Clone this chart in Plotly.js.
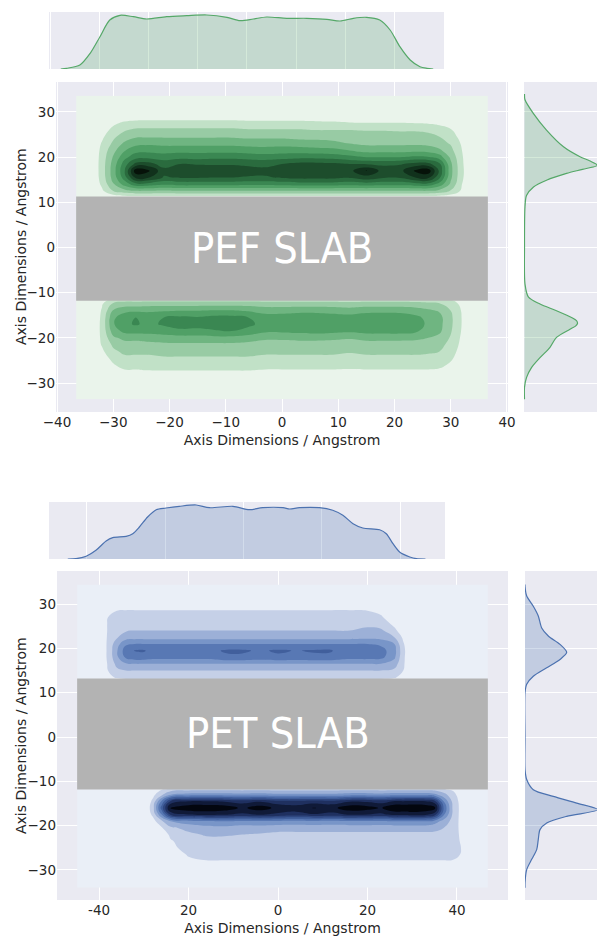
<!DOCTYPE html>
<html><head><meta charset="utf-8">
<script src="https://cdn.plot.ly/plotly-3.0.1.min.js"></script>
<style>html,body{margin:0;padding:0;background:#fff;overflow:hidden}#chart{width:597px;height:936px}</style>
</head><body><div id="chart"></div>
<script>
// ---------------- PEF (top, green) ----------------
const pefX = [-36.6,-34,-32,-30,-28,-26,-24,-21,-18,-15,-12,-9,-6,-3,0,3,6,9,12,15,18,21,24,26,28,30,32,34,36.6];
const pefYLow = [-33.6,-31,-29,-27.5,-26,-24.5,-23,-21.5,-20,-18.5,-17,-15.5,-14,-12.5,-11];
const pefYUp = [11,12.5,14,15.5,17,18.5,20,21.5,23,24.5,26,27.5,29,31,33.6];
const Z15 = [0,0,0,0,0,0,0,0,0,0,0,0,0,0,0];
// density level per x column, lower band rows (pefYLow)
const pefLow = [
 Z15, Z15,
 [0,0,0,0.05,0.25,0.5,0.8,1.1,1.2,1.25,1.25,1.2,1.1,0.9,0.4],
 [0,0,0.1,0.4,0.9,1.3,1.8,2.2,2.8,3.5,3.9,3.8,3.1,2.2,0.9],
 [0,0,0.2,0.8,1.4,1.8,2.2,2.6,3.3,4.3,4.8,4.6,3.7,2.5,1.0],
 [0,0,0.2,0.8,1.4,1.8,2.2,2.6,3.3,4.4,5.1,5.0,3.8,2.5,1.0],
 [0,0,0.2,0.9,1.4,1.8,2.2,2.7,3.4,4.4,4.8,4.7,3.8,2.6,1.0],
 [0,0,0.2,0.9,1.5,1.9,2.3,2.8,3.5,4.6,5.1,5.0,3.9,2.6,1.0],
 [0,0,0.2,0.9,1.5,1.9,2.3,2.8,3.6,4.8,5.4,5.2,4.0,2.6,1.0],
 [0,0,0.2,0.9,1.5,1.9,2.3,2.8,3.6,4.8,5.3,5.1,4.0,2.6,1.0],
 [0,0,0.2,0.9,1.5,1.9,2.3,2.8,3.7,4.9,5.5,5.3,4.1,2.6,1.0],
 [0,0,0.2,0.9,1.5,1.9,2.3,2.8,3.7,5.0,5.6,5.3,4.1,2.6,1.0],
 [0,0,0.2,0.9,1.5,1.9,2.3,2.7,3.5,4.7,5.2,5.0,3.9,2.6,1.0],
 [0,0,0.2,0.8,1.4,1.8,2.2,2.6,3.2,4.2,4.7,4.5,3.6,2.5,1.0],
 [0,0,0.2,0.8,1.4,1.8,2.2,2.6,3.2,4.2,4.8,4.5,3.6,2.5,1.0],
 [0,0,0.2,0.8,1.4,1.8,2.2,2.6,3.3,4.3,4.9,4.6,3.7,2.5,1.0],
 [0,0,0.2,0.8,1.4,1.8,2.2,2.6,3.3,4.4,4.9,4.6,3.7,2.5,1.0],
 [0,0,0.2,0.8,1.4,1.8,2.2,2.6,3.2,4.3,4.8,4.5,3.6,2.5,1.0],
 [0,0,0.2,0.8,1.3,1.7,2.1,2.5,3.1,4.2,4.7,4.4,3.5,2.4,1.0],
 [0,0,0.2,0.8,1.4,1.8,2.2,2.6,3.3,4.4,4.9,4.6,3.7,2.5,1.0],
 [0,0,0.2,0.8,1.4,1.8,2.2,2.6,3.3,4.4,5.0,4.7,3.7,2.5,1.0],
 [0,0,0.2,0.8,1.4,1.8,2.2,2.6,3.3,4.4,4.9,4.6,3.7,2.5,1.0],
 [0,0,0.2,0.8,1.4,1.8,2.2,2.6,3.2,4.1,4.4,4.2,3.5,2.4,1.0],
 [0,0,0.2,0.8,1.4,1.8,2.1,2.5,3.0,3.6,3.8,3.7,3.2,2.3,0.9],
 [0,0,0.2,0.7,1.3,1.7,2.0,2.3,2.7,3.2,3.3,3.3,2.9,2.1,0.9],
 [0,0,0,0.3,0.8,1.2,1.5,1.7,1.9,2.1,2.2,2.2,2.0,1.6,0.7],
 [0,0,0,0,0.1,0.3,0.5,0.7,0.8,0.9,0.95,0.95,0.9,0.7,0.3],
 Z15, Z15
];
// upper band rows (pefYUp)
const pefUp = [
 Z15, Z15,
 [0,0.8,1.2,1.4,1.45,1.45,1.4,1.3,1.1,0.8,0.5,0.2,0,0,0],
 [0.2,2.0,2.9,3.4,3.5,3.4,3.1,2.7,2.2,1.8,1.3,0.8,0.2,0,0],
 [0.3,2.6,4.4,5.5,5.9,5.5,4.7,3.9,3.2,2.5,1.9,1.2,0.4,0,0],
 [0.3,2.9,5.6,8.3,9.6,7.3,5.6,4.6,3.7,2.9,2.2,1.35,0.5,0,0],
 [0.3,2.9,5.6,8.2,9.3,7.4,5.7,4.7,3.8,2.9,2.2,1.4,0.5,0,0],
 [0.3,2.8,5.2,6.9,7.3,6.6,5.5,4.6,3.7,2.9,2.2,1.4,0.5,0,0],
 [0.3,2.9,5.4,7.1,7.8,7.0,5.7,4.6,3.7,2.9,2.2,1.4,0.5,0,0],
 [0.3,2.9,5.4,7.1,7.7,6.9,5.6,4.6,3.7,2.9,2.2,1.4,0.5,0,0],
 [0.3,2.9,5.4,7.0,7.6,6.9,5.7,4.6,3.7,2.9,2.2,1.4,0.5,0,0],
 [0.3,2.9,5.4,7.0,7.5,6.9,5.7,4.6,3.7,2.9,2.2,1.4,0.5,0,0],
 [0.3,2.9,5.3,6.9,7.4,6.8,5.6,4.5,3.6,2.8,2.1,1.3,0.5,0,0],
 [0.3,2.9,5.3,6.9,7.3,6.7,5.5,4.4,3.6,2.8,2.1,1.3,0.5,0,0],
 [0.3,2.9,5.4,7.1,7.7,7.0,5.6,4.5,3.6,2.8,2.1,1.3,0.5,0,0],
 [0.3,2.9,5.5,7.3,7.9,7.3,5.7,4.5,3.5,2.7,2.1,1.3,0.5,0,0],
 [0.3,2.9,5.5,7.3,8.0,7.3,5.7,4.4,3.4,2.7,2.0,1.25,0.45,0,0],
 [0.3,2.9,5.5,7.3,7.9,7.2,5.6,4.3,3.3,2.6,2.0,1.2,0.4,0,0],
 [0.3,2.9,5.4,7.1,7.7,7.0,5.3,4.0,3.0,2.5,2.0,1.1,0.35,0,0],
 [0.3,2.9,5.5,7.6,9.05,6.9,5.0,3.6,2.8,2.4,1.95,1.05,0.3,0,0],
 [0.3,2.9,5.4,7.1,7.6,6.8,5.0,3.6,2.8,2.4,1.95,1.05,0.3,0,0],
 [0.3,2.9,5.4,7.1,7.7,6.9,5.0,3.6,2.8,2.4,1.9,1.05,0.3,0,0],
 [0.3,2.9,5.6,8.1,9.3,7.4,5.2,3.7,2.8,2.4,1.9,1.0,0.3,0,0],
 [0.3,2.9,5.6,8.3,9.6,7.3,5.1,3.6,2.7,2.3,1.8,0.95,0.25,0,0],
 [0.3,2.6,4.6,6.2,6.8,6.2,4.5,3.2,2.4,2.0,1.5,0.8,0.2,0,0],
 [0.2,1.9,2.8,3.2,3.3,3.2,2.8,2.3,1.9,1.5,1.1,0.6,0.1,0,0],
 [0,0.8,1.0,1.15,1.2,1.15,1.1,1.0,0.85,0.6,0.35,0.1,0,0,0],
 Z15, Z15
];
const pefColors = ['#eaf4eb','#c1e1c7','#98cba4','#6fb581','#50a066','#3a8752','#2a6b3e','#1d4d2c','#11311c','#061209'];
// marginal KDE (x) – heights
const pefMX = [-38,-36.8,-34.1,-32.0,-30.0,-28.0,-25.9,-23.2,-20.5,-16.4,-12.3,-8.2,-4.1,-1.4,1.3,4.0,8.1,12.2,16.3,19.0,21.7,24.4,27.1,29.2,31.2,33.3,35.3,36.7,38];
const pefMH = [0,0.7,4,15.7,32.3,49,53.7,52.3,50,52.3,53.3,54,51.7,48.3,50,52,50.7,50.7,49.7,48,50.7,51.7,49,39,22.3,9,2.3,0.7,0];
// marginal KDE (y)
const pefMY = [34,32.7,29.7,26.0,22.3,20.1,19.2,18.2,17.3,16.4,14.9,13.4,11.5,9.0,0,-8.1,-11.0,-12.5,-14.0,-15.5,-16.2,-16.8,-17.4,-18.1,-19.9,-22.1,-24.4,-26.6,-28.8,-31.0,-33.6];
const pefMV = [0,0.5,8.8,22,39,55.5,65,73,58,42,22,9,2,0.5,0,0.5,4,15.5,32,47,52,53,51,45.5,32,25.5,15.5,7,2,0,0];

// ---------------- PET (bottom, blue) ----------------
const petX = [-44.9,-42,-40,-38,-36,-34,-32,-30,-28,-26,-24,-20,-16,-12,-8,-4,0,4,8,12,16,20,23,26,28,30,33,35,37,39,41,43,46.9];
const petYLow = [-34,-31,-29.5,-28,-26.5,-25,-23.5,-22,-20.5,-19,-17.5,-16,-14.5,-13,-11.5];
const petYUp = [12,13.5,15,16.5,18,19.5,21,22.5,24,25.5,27,28.5,30,32,34.4];
const petU0 = [0.5,1.2,2.0,3.0,4.4,4.6,4.0,2.6,2.0,1.5,1.3,1.05,0.4,0,0];
const petLow = [
 Z15, Z15, Z15, Z15, Z15, Z15, Z15, Z15,
 [0,0,0,0,0,0,0,0,0.2,0.6,1.2,1.5,1.2,0.7,0.3],
 [0,0,0,0,0,0,0.1,0.4,0.9,1.8,4.0,5.5,4.2,1.8,0.7],
 [0,0,0,0.05,0.4,0.8,0.9,1.2,1.8,3.0,7.2,9.3,7.2,3.0,1.1],
 [0,0,0.1,0.8,1.1,1.3,1.5,1.8,2.3,3.6,8.0,9.7,8.0,3.4,1.2],
 [0,0,0.3,0.95,1.3,1.45,1.7,2.1,2.6,3.9,8.2,9.8,8.0,3.5,1.2],
 [0,0,0.3,0.95,1.3,1.45,1.7,2.1,2.7,4.0,8.1,9.6,7.9,3.5,1.2],
 [0,0,0.3,0.95,1.3,1.45,1.6,2.0,2.5,3.8,7.8,8.8,7.6,3.4,1.2],
 [0,0,0.3,0.95,1.3,1.45,1.6,1.9,2.5,3.9,8.1,9.5,7.9,3.5,1.2],
 [0,0,0.3,0.95,1.3,1.45,1.6,1.75,2.4,3.8,7.8,8.7,7.4,3.3,1.2],
 [0,0,0.3,0.95,1.3,1.45,1.6,1.75,2.4,3.7,7.6,8.5,7.3,3.3,1.2],
 [0,0,0.3,0.95,1.3,1.45,1.6,1.75,2.4,3.8,7.9,9.05,7.5,3.3,1.2],
 [0,0,0.3,0.95,1.3,1.45,1.6,1.75,2.4,3.7,7.7,8.7,7.4,3.3,1.2],
 [0,0,0.3,0.95,1.3,1.45,1.6,1.75,2.4,3.9,8.1,9.6,7.9,3.5,1.2],
 [0,0,0.3,0.95,1.3,1.45,1.6,1.75,2.4,3.9,8.0,9.4,7.8,3.5,1.2],
 [0,0,0.3,0.95,1.3,1.45,1.6,1.75,2.4,3.8,7.8,8.9,7.6,3.4,1.2],
 [0,0,0.3,0.95,1.3,1.45,1.6,1.75,2.4,4.0,8.3,9.8,8.1,3.6,1.2],
 [0,0,0.3,0.95,1.3,1.45,1.6,1.75,2.4,4.0,8.3,9.8,8.1,3.6,1.2],
 [0,0,0.3,0.95,1.3,1.45,1.6,1.75,2.4,4.0,8.4,9.9,8.2,3.6,1.2],
 [0,0,0.3,0.95,1.3,1.45,1.6,1.75,2.4,4.0,8.2,9.8,8.0,3.6,1.2],
 [0,0,0.3,0.95,1.3,1.45,1.6,1.75,2.3,3.5,7.5,9.4,7.4,3.3,1.2],
 [0,0,0.3,0.95,1.3,1.45,1.6,1.7,2.0,2.6,4.2,5.0,4.0,2.4,1.0],
 [0,0,0.3,0.95,1.25,1.35,1.4,1.5,1.6,1.7,1.9,1.95,1.8,1.4,0.7],
 [0,0,0.1,0.6,0.95,0.98,0.9,0.8,0.7,0.65,0.6,0.6,0.55,0.4,0.2],
 Z15, Z15
];
const petUp = [
 Z15, Z15, Z15,
 [0.3,0.8,1.0,1.1,1.2,1.2,1.2,1.15,1.1,1.1,1.0,0.85,0.2,0,0],
 [0.4,1.1,1.8,2.3,2.8,2.9,2.6,1.9,1.6,1.3,1.15,1.0,0.35,0,0],
 [0.5,1.2,2.0,2.9,4.2,4.6,3.8,2.5,1.9,1.45,1.25,1.05,0.4,0,0],
 [0.5,1.2,2.0,3.0,4.6,5.05,4.0,2.6,2.0,1.5,1.3,1.05,0.4,0,0],
 [0.5,1.2,2.0,3.0,4.6,5.1,4.0,2.6,2.0,1.5,1.3,1.05,0.4,0,0],
 petU0, petU0, petU0, petU0, petU0,
 [0.5,1.2,2.0,3.0,4.8,5.1,4.0,2.6,2.0,1.5,1.3,1.05,0.4,0,0],
 [0.5,1.2,2.0,3.0,4.8,5.15,4.0,2.6,2.0,1.5,1.3,1.05,0.4,0,0],
 [0.5,1.2,2.0,3.0,4.6,4.85,4.0,2.6,2.0,1.5,1.3,1.05,0.4,0,0],
 [0.5,1.2,2.0,3.0,4.8,5.15,4.0,2.6,2.0,1.5,1.3,1.05,0.4,0,0],
 [0.5,1.2,2.0,3.0,4.7,4.95,4.0,2.6,2.0,1.5,1.3,1.05,0.4,0,0],
 [0.5,1.2,2.0,3.0,4.8,5.1,4.0,2.6,2.0,1.5,1.3,1.05,0.4,0,0],
 [0.5,1.2,2.0,3.0,4.8,5.05,4.0,2.6,2.0,1.5,1.3,1.05,0.4,0,0],
 petU0,
 [0.5,1.2,2.0,3.0,4.4,4.6,4.0,2.7,2.3,1.7,1.3,1.0,0.35,0,0],
 [0.5,1.2,2.0,3.0,4.3,4.4,3.8,2.6,2.2,1.5,1.1,0.8,0.2,0,0],
 [0.4,1.1,1.8,2.5,3.2,3.4,3.0,2.0,1.2,0.8,0.5,0.2,0,0,0],
 [0.2,0.7,1.0,1.15,1.2,1.25,1.1,0.8,0.5,0.3,0.1,0,0,0,0],
 Z15, Z15, Z15, Z15, Z15, Z15, Z15, Z15
];
const petColors = ['#eaeff7','#c5d0e7','#9cb0d7','#7895c8','#5878b4','#415f9c','#2f4780','#1f3060','#101a38','#03060f'];
const petMX = [-44.9,-42.8,-40.2,-37.7,-35.1,-33.4,-30.0,-28.3,-26.6,-24.5,-22.3,-19.8,-16.4,-12.1,-8.7,-2.7,1.5,4.9,10.1,11.8,14.3,19.4,22.8,25.4,28.0,30.5,34.8,36.5,38.2,39.9,42.5,44.2,46.5];
const petMH = [0,0.3,2.7,8.7,18,21.3,22.7,25.3,32,42,49.3,51,52.7,54,51.3,52.7,49.3,51.3,51.3,50,51.3,51.3,48.7,43.7,35.3,31,29.3,25.3,15.3,7,2,0.3,0];
const petMY = [34.4,34.0,31.8,29.5,27.3,24.6,22.8,20.9,19.1,17.5,15.6,13.7,11.9,10.0,0,-7.3,-9.6,-11.9,-13.4,-14.9,-16.4,-17.9,-19.4,-20.9,-23.1,-25.4,-27.6,-29.9,-32.9,-34.0];
const petMV = [0,0,1.7,8.3,13.3,16.7,23.3,35,41.7,35,21.7,8.3,1.7,0,0,0,1.7,8.3,28.3,51.7,73,41.7,21.7,15,13.3,11.7,6.7,1.7,0,0];

// ---------------- shared labels ----------------
const axisTitle = 'Axis Dimensions / Angstrom';
const yTicks = [-30,-20,-10,0,10,20,30];
const pefXTicks = [-40,-30,-20,-10,0,10,20,30,40];
const petXTicks = [-40,-20,0,20,40];
const petXTickText = ['-40','20','0','20','40'];
const slabLabels = ['PEF SLAB','PET SLAB'];
const pefSlab = {x0:-36.6, x1:36.6, y0:-11.8, y1:11.3};
const petSlab = {x0:-44.9, x1:46.9, y0:-11.85, y1:13.2};

// ---------------- build ----------------
const W = 597, H = 936;
const dx = (a,b) => [a/W, b/W];
const dy = (t,b) => [1-b/H, 1-t/H];
const cscale = cols => cols.map((c,i) => [i/(cols.length-1), c]);
const joinCols = (lo,up) => lo.map((c,i) => c.concat(up[i]));

function contourTrace(x, yl, yu, lo, up, cols, xa, ya){
  return {type:'contour', x:x, y:yl.concat(yu), z:joinCols(lo,up), transpose:true,
    xaxis:xa, yaxis:ya, colorscale:cscale(cols), autocontour:false,
    contours:{start:1,end:9,size:1,coloring:'fill',showlines:false},
    line:{width:0,smoothing:1.3}, showscale:false, hoverinfo:'skip'};
}
const green='#55a868', blue='#4c72b0';
const traces = [
  contourTrace(pefX,pefYLow,pefYUp,pefLow,pefUp,pefColors,'x','y'),
  {type:'scatter',mode:'lines',x:pefMX,y:pefMH,xaxis:'x2',yaxis:'y2',fill:'tozeroy',
   fillcolor:'rgba(85,168,104,0.25)',line:{color:green,width:1.2,shape:'spline',smoothing:0.8},hoverinfo:'skip'},
  {type:'scatter',mode:'lines',x:pefMV,y:pefMY,xaxis:'x3',yaxis:'y3',fill:'tozerox',
   fillcolor:'rgba(85,168,104,0.25)',line:{color:green,width:1.2,shape:'spline',smoothing:0.8},hoverinfo:'skip'},
  contourTrace(petX,petYLow,petYUp,petLow,petUp,petColors,'x4','y4'),
  {type:'scatter',mode:'lines',x:petMX,y:petMH,xaxis:'x5',yaxis:'y5',fill:'tozeroy',
   fillcolor:'rgba(76,114,176,0.25)',line:{color:blue,width:1.2,shape:'spline',smoothing:0.8},hoverinfo:'skip'},
  {type:'scatter',mode:'lines',x:petMV,y:petMY,xaxis:'x6',yaxis:'y6',fill:'tozerox',
   fillcolor:'rgba(76,114,176,0.25)',line:{color:blue,width:1.2,shape:'spline',smoothing:0.8},hoverinfo:'skip'}
];

const tickFont = {family:'DejaVu Sans, Verdana, sans-serif', size:13.5, color:'#262626'};
const titleFont = {family:'DejaVu Sans, Verdana, sans-serif', size:14, color:'#262626'};
const ax = o => Object.assign({showgrid:true,gridcolor:'#ffffff',gridwidth:1,zeroline:false,showline:false,
  ticks:'',tickfont:tickFont,fixedrange:true,tickmode:'array'}, o);
const pefYR = [-36.42,36.64], petYR = [-36.77,37.45];
const slabFont = {family:'DejaVu Sans Condensed, Noto Sans, sans-serif', size:43, color:'#ffffff'};
const layout = {
  width:W, height:H, margin:{l:0,r:0,t:0,b:0}, showlegend:false,
  paper_bgcolor:'#ffffff', plot_bgcolor:'#eaeaf2',
  font:{family:'DejaVu Sans, Verdana, sans-serif', color:'#262626'},
  xaxis: ax({domain:dx(56,508), range:[-40.18,40.18], tickvals:pefXTicks, anchor:'y',
     title:{text:axisTitle, font:titleFont, standoff:6}}),
  yaxis: ax({domain:dy(82,412), range:pefYR, tickvals:yTicks, anchor:'x'}),
  xaxis2: ax({domain:dx(49,444), range:[-40.4,40.2], tickvals:pefXTicks, showticklabels:false, anchor:'y2'}),
  yaxis2: ax({domain:dy(12,69), range:[0,57], showgrid:false, showticklabels:false, anchor:'x2'}),
  xaxis3: ax({domain:dx(524,597), range:[-0.5,72.5], showgrid:false, showticklabels:false, anchor:'y3'}),
  yaxis3: ax({domain:dy(82,412), range:pefYR, tickvals:yTicks, showticklabels:false, anchor:'x3'}),
  xaxis4: ax({domain:dx(57,508), range:[-49.4,51.4], tickvals:petXTicks, ticktext:petXTickText, anchor:'y4',
     title:{text:axisTitle, font:titleFont, standoff:6}}),
  yaxis4: ax({domain:dy(571,900), range:petYR, tickvals:yTicks, anchor:'x4'}),
  xaxis5: ax({domain:dx(49,445), range:[-49.7,51.5], tickvals:petXTicks, showticklabels:false, anchor:'y5'}),
  yaxis5: ax({domain:dy(502,559), range:[0,57], showgrid:false, showticklabels:false, anchor:'x5'}),
  xaxis6: ax({domain:dx(525,597), range:[0,72], showgrid:false, showticklabels:false, anchor:'y6'}),
  yaxis6: ax({domain:dy(571,900), range:petYR, tickvals:yTicks, showticklabels:false, anchor:'x6'}),
  shapes:[
    Object.assign({type:'rect', xref:'x', yref:'y', fillcolor:'#b3b3b3', line:{width:0}, layer:'above'}, pefSlab),
    Object.assign({type:'rect', xref:'x4', yref:'y4', fillcolor:'#b3b3b3', line:{width:0}, layer:'above'}, petSlab)
  ],
  annotations:[
    {xref:'x', yref:'y', x:0, y:0, text:slabLabels[0], showarrow:false, font:slabFont},
    {xref:'x4', yref:'y4', x:0, y:0.97, text:slabLabels[1], showarrow:false, font:slabFont},
    {xref:'paper', yref:'paper', x:21/W, y:1-247/H, text:axisTitle, showarrow:false, textangle:-90,
     xanchor:'center', yanchor:'middle', font:titleFont},
    {xref:'paper', yref:'paper', x:21/W, y:1-736/H, text:axisTitle, showarrow:false, textangle:-90,
     xanchor:'center', yanchor:'middle', font:titleFont}
  ]
};
Plotly.newPlot('chart', traces, layout, {staticPlot:true, displayModeBar:false});
</script></body></html>
